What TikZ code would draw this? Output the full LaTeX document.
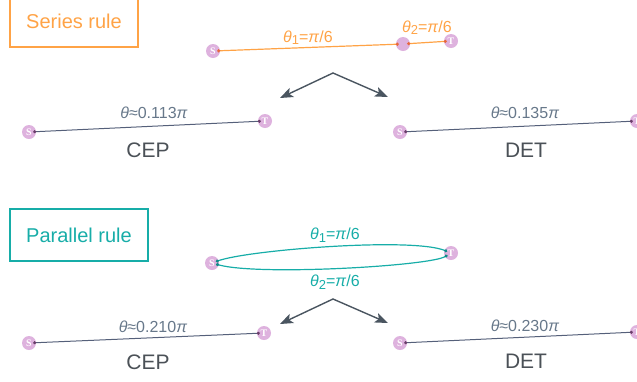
\documentclass[tikz,border=0pt]{standalone}
\usepackage{fontspec}
\setmainfont{Liberation Sans}
\newfontfamily\letterfont{Liberation Serif}
\usetikzlibrary{arrows.meta}
\definecolor{seriesorange}{HTML}{FFA346}
\definecolor{orangedot}{HTML}{E8683C}
\definecolor{parallelteal}{HTML}{17ADA8}
\definecolor{tealdot}{HTML}{0E8A86}
\definecolor{nodepink}{HTML}{DEB2DE}
\definecolor{edgegray}{HTML}{55607A}
\definecolor{graydot}{HTML}{6B3F6B}
\definecolor{labelgray}{HTML}{67788A}
\definecolor{namegray}{HTML}{4B5157}
\definecolor{arrowgray}{HTML}{4A5560}
\newcommand{\lowidx}[1]{\raisebox{-0.3ex}{\fontsize{13}{13}\selectfont #1}}
\tikzset{
  vertex/.style={circle,fill=nodepink,minimum size=14pt,inner sep=0pt,text=white,
    font=\letterfont\bfseries\fontsize{10}{10}\selectfont},
  rulebox/.style={draw,line width=2.5pt,minimum height=52pt,inner sep=0pt,
    font=\fontsize{20}{24}\selectfont},
  link/.style={line width=1.2pt,shorten <=-3pt,shorten >=-3pt,
    {Circle[length=3pt,color=#1]}-{Circle[length=3pt,color=#1]}},
  weight/.style={font=\fontsize{16}{16}\selectfont,inner sep=0pt},
  method/.style={font=\fontsize{21}{21}\selectfont,text=namegray,inner sep=0pt},
  split/.style={{Stealth[length=13pt,width=10pt,inset=3pt]}-{Stealth[length=13pt,width=10pt,inset=3pt]},
    line width=1.4pt,draw=arrowgray},
}
\begin{document}
\begin{tikzpicture}[x=1pt,y=-1pt]
  \useasboundingbox (0,0) rectangle (637,381);
  % series rule
  \node[rulebox,draw=seriesorange,text=seriesorange,minimum width=128pt] (series) at (74,21) {Series rule};
  \node[vertex] (s0) at (213,51) {S};
  \node[vertex] (m0) at (403,44) {};
  \node[vertex] (t0) at (451,41) {T};
  \draw[link=orangedot,draw=seriesorange] (s0) -- node[weight,text=seriesorange,yshift=10pt]{\textit{θ}\lowidx{1}=\textit{π}/6} (m0);
  \draw[link=orangedot,draw=seriesorange] (m0) -- node[weight,text=seriesorange,yshift=15pt]{\textit{θ}\lowidx{2}=\textit{π}/6} (t0);
  \coordinate (fork0) at (333,73);
  \coordinate (tocep0) at (280,98);
  \coordinate (todet0) at (388,97);
  \draw[split] (tocep0) -- (fork0) -- (todet0);
  \node[vertex] (s1) at (29,132) {S};
  \node[vertex] (t1) at (265,121) {T};
  \draw[link=graydot,draw=edgegray,line width=1pt] (s1) -- node[weight,text=labelgray,xshift=7pt,yshift=13.5pt]{\textit{θ}≈0.113\textit{π}}
    node[method,xshift=1pt,yshift=-23.5pt]{CEP} (t1);
  \node[vertex] (s2) at (400,132) {S};
  \node[vertex] (t2) at (637,121) {T};
  \draw[link=graydot,draw=edgegray,line width=1pt] (s2) -- node[weight,text=labelgray,xshift=6.5pt,yshift=13.5pt]{\textit{θ}≈0.135\textit{π}}
    node[method,xshift=7.5pt,yshift=-23.5pt]{DET} (t2);
  % parallel rule
  \node[rulebox,draw=parallelteal,text=parallelteal,minimum width=138pt] (parallel) at (79,235) {Parallel rule};
  \node[vertex] (s3) at (212,263) {S};
  \node[vertex] (t3) at (451,253) {T};
  \draw[link=tealdot,draw=parallelteal] (s3) .. controls (248,250) and (412,237) .. (t3);
  \draw[link=tealdot,draw=parallelteal] (s3) .. controls (258,276) and (430,266) .. (t3);
  \node[weight,text=parallelteal] (w1) at (335,235) {\textit{θ}\lowidx{1}=\textit{π}/6};
  \node[weight,text=parallelteal] (w2) at (335,282) {\textit{θ}\lowidx{2}=\textit{π}/6};
  \coordinate (fork1) at (333,299);
  \coordinate (tocep1) at (280,324);
  \coordinate (todet1) at (388,323);
  \draw[split] (tocep1) -- (fork1) -- (todet1);
  \node[vertex] (s4) at (29,343) {S};
  \node[vertex] (t4) at (264,333) {T};
  \draw[link=graydot,draw=edgegray,line width=1pt] (s4) -- node[weight,text=labelgray,xshift=6.5pt,yshift=11pt]{\textit{θ}≈0.210\textit{π}}
    node[method,xshift=1.5pt,yshift=-24pt]{CEP} (t4);
  \node[vertex] (s5) at (400,343) {S};
  \node[vertex] (t5) at (637,332) {T};
  \draw[link=graydot,draw=edgegray,line width=1pt] (s5) -- node[weight,text=labelgray,xshift=6.5pt,yshift=11.5pt]{\textit{θ}≈0.230\textit{π}}
    node[method,xshift=7.5pt,yshift=-23.5pt]{DET} (t5);
\end{tikzpicture}
\end{document}
